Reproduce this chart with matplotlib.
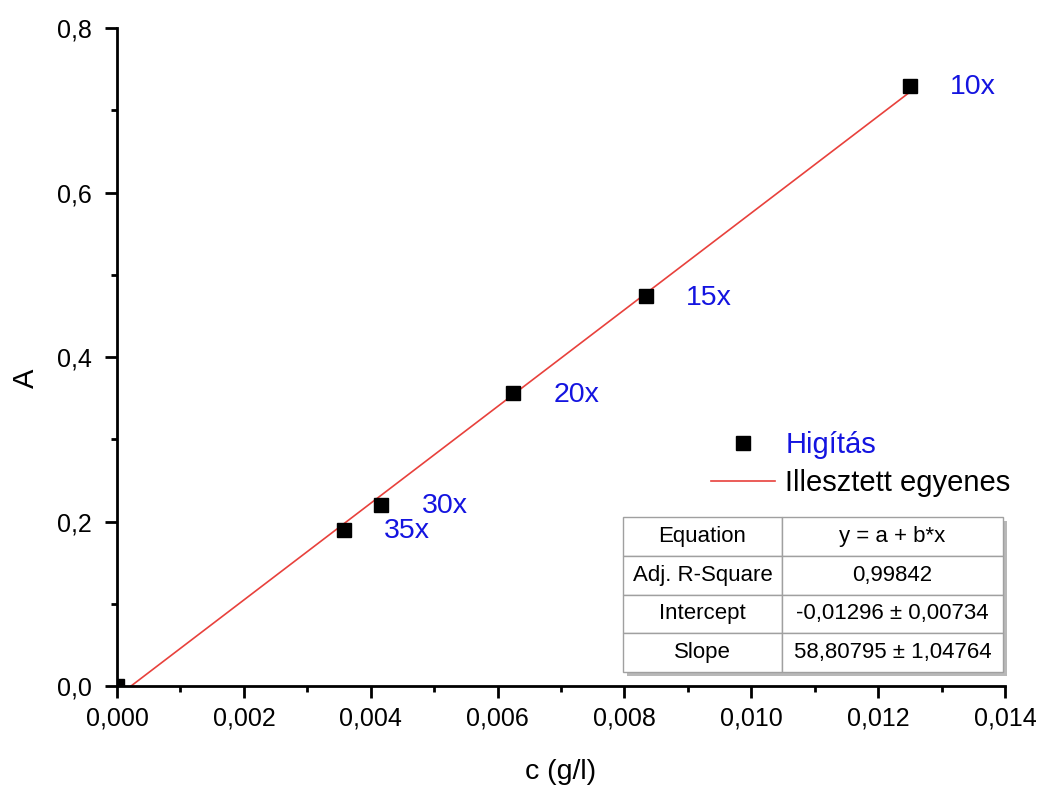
import numpy as np
import matplotlib.pyplot as plt
from matplotlib.ticker import FuncFormatter, MultipleLocator

plt.rcParams['font.family'] = ['Liberation Sans', 'DejaVu Sans']

# measured dilutions: concentration (g/l) and absorbance
conc = [0.0, 0.003571, 0.004167, 0.00625, 0.008333, 0.0125]
absorb = [0.0, 0.190, 0.220, 0.356, 0.474, 0.7295]
dilution = ['', '35x', '30x', '20x', '15x', '10x']

# linear fit results
intercept = -0.01296
slope = 58.80795
fit_rows = [
    ['Equation', 'y = a + b*x'],
    ['Adj. R-Square', '0,99842'],
    ['Intercept', '-0,01296 ± 0,00734'],
    ['Slope', '58,80795 ± 1,04764'],
]


def comma_fmt(decimals):
    return FuncFormatter(lambda v, pos: f"{v:.{decimals}f}".replace('.', ','))


def main():
    fig = plt.figure(figsize=(10.43, 7.89), dpi=100)
    ax = fig.add_axes([0.1122, 0.1305, 0.8514, 0.834])

    xfit = np.array([0.0, conc[-1]])
    ax.plot(xfit, intercept + slope * xfit, color='#e8413c', lw=1.2,
            label='Illesztett egyenes', zorder=2)
    ax.plot(conc, absorb, 's', color='black', ms=10, ls='none',
            label='Higítás', zorder=3)

    for x, y, lab in zip(conc, absorb, dilution):
        if lab:
            ax.annotate(lab, (x, y), xytext=(29, -1), textcoords='offset points',
                        ha='left', va='center', color='#1414e0', fontsize=20.5)

    ax.set_xlim(0, 0.014)
    ax.set_ylim(0, 0.8)
    ax.xaxis.set_major_locator(MultipleLocator(0.002))
    ax.xaxis.set_minor_locator(MultipleLocator(0.001))
    ax.yaxis.set_major_locator(MultipleLocator(0.2))
    ax.yaxis.set_minor_locator(MultipleLocator(0.1))
    ax.xaxis.set_major_formatter(comma_fmt(3))
    ax.yaxis.set_major_formatter(comma_fmt(1))

    for side in ['top', 'right']:
        ax.spines[side].set_visible(False)
    for side in ['left', 'bottom']:
        ax.spines[side].set_linewidth(2)
    ax.tick_params(which='major', direction='out', length=8.5, width=2,
                   labelsize=18)
    ax.tick_params(which='minor', direction='out', length=4.5, width=2)
    ax.tick_params(axis='x', which='major', pad=6)
    ax.tick_params(axis='y', which='major', pad=9.5)

    ax.set_xlabel('c (g/l)', fontsize=20.5, labelpad=21)
    ax.set_ylabel('A', fontsize=21)
    ax.yaxis.set_label_coords(-0.087, 0.468)

    handles, labels = ax.get_legend_handles_labels()
    leg = ax.legend(handles[::-1], labels[::-1], loc='upper left',
                    bbox_to_anchor=(0.669, 0.387), frameon=False, fontsize=21,
                    handlelength=2.2, handletextpad=0.35, labelspacing=0.33,
                    borderpad=0, borderaxespad=0)
    leg.get_texts()[0].set_color('#1414e0')

    # fit parameter table with a soft drop shadow
    x0, y0, w, h = 0.5698, 0.0213, 0.4279, 0.2355
    shadow = plt.Rectangle((x0 + 0.004, y0 - 0.006), w, h, transform=ax.transAxes,
                           facecolor='#b8b8b8', edgecolor='none', zorder=4,
                           clip_on=False)
    ax.add_patch(shadow)
    tbl = ax.table(cellText=fit_rows, cellLoc='center', colWidths=[0.418, 0.582],
                   bbox=[x0, y0, w, h], zorder=5)
    tbl.auto_set_font_size(False)
    tbl.set_fontsize(16)
    for cell in tbl.get_celld().values():
        cell.set_edgecolor('#a0a0a0')
        cell.set_linewidth(1)
        cell.set_facecolor('white')

    fig.savefig('out.png', dpi=100)


if __name__ == "__main__":
    main()
